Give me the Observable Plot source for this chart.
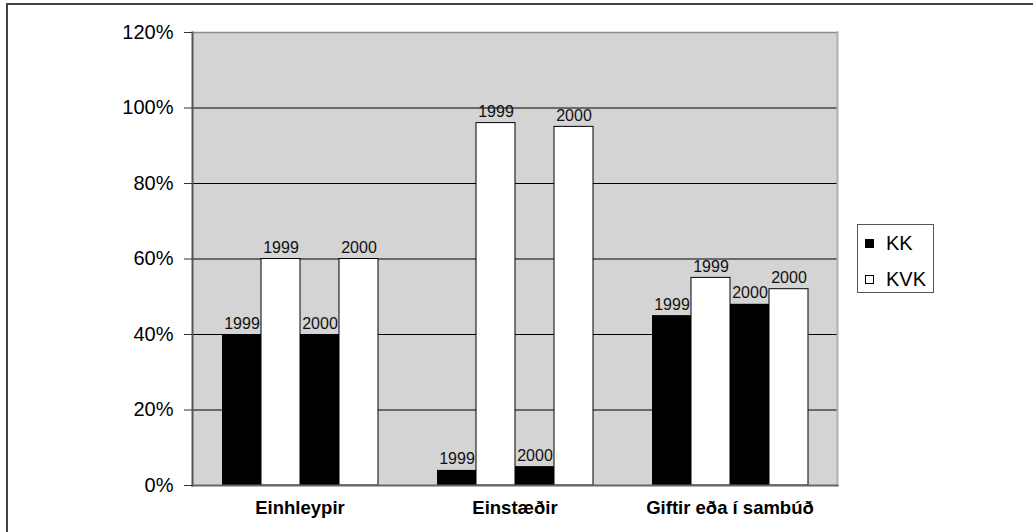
<!DOCTYPE html>
<html>
<head>
<meta charset="utf-8">
<script src="https://cdn.jsdelivr.net/npm/d3@7"></script>
<script src="https://cdn.jsdelivr.net/npm/@observablehq/plot@0.6"></script>
<style>
  html, body { margin: 0; padding: 0; background: #fff; }
  #wrap { position: relative; width: 1033px; height: 532px; overflow: hidden; font-family: "Liberation Sans", Arial, sans-serif; }
  #border { position: absolute; left: 6px; top: 3px; width: 1100px; height: 600px; border-left: 2px solid #444; border-top: 2px solid #444; pointer-events: none; }
  #legend { position: absolute; left: 857px; top: 224px; width: 77px; height: 69px; border: 1px solid #555; background: #fff; box-sizing: border-box; }
  .item { position: absolute; left: 7px; font-size: 20px; line-height: 20px; color: #000; }
  .sw { position: absolute; left: 0; width: 9px; height: 9px; box-sizing: border-box; border: 1px solid #000; }
  .lab { position: absolute; left: 21px; top: 0; white-space: nowrap; }
  svg { position: absolute; left: 0; top: 0; }
</style>
</head>
<body>
<div id="wrap">
  <div id="chart"></div>
  <div id="border"></div>
  <div id="legend"></div>
</div>
<script>
const categories = ["Einhleypir", "Einstæðir", "Giftir eða í sambúð"];
const seriesNames = ["KK", "KVK"];
const years = ["1999", "2000"];
const kk1999 = [0.40, 0.04, 0.45];
const kvk1999 = [0.60, 0.96, 0.55];
const kk2000 = [0.40, 0.05, 0.48];
const kvk2000 = [0.60, 0.95, 0.52];
const yTicks = [0, 0.2, 0.4, 0.6, 0.8, 1.0, 1.2];
const seriesColors = {KK: "#000000", KVK: "#ffffff"};

const valueTable = {
  "KK 1999": kk1999, "KVK 1999": kvk1999,
  "KK 2000": kk2000, "KVK 2000": kvk2000
};
const keys = ["KK 1999", "KVK 1999", "KK 2000", "KVK 2000"];
const rows = [];
categories.forEach((cat, i) => {
  keys.forEach(k => {
    const [s, y] = k.split(" ");
    rows.push({cat, key: k, series: s, year: y, value: valueTable[k][i]});
  });
});

const chart = Plot.plot({
  width: 1033,
  height: 532,
  marginLeft: 192,
  marginRight: 196,
  marginTop: 32,
  marginBottom: 47,
  style: {fontFamily: "'Liberation Sans', Arial, sans-serif", background: "transparent", color: "#000"},
  fx: {domain: categories, padding: 0, label: null},
  x: {domain: keys, paddingInner: 0, paddingOuter: 0.72, axis: null},
  y: {domain: [0, 1.2], label: null},
  marks: [
    Plot.frame({fill: "#d4d4d4", stroke: "none", facet: "super"}),
    Plot.gridY({ticks: [0.2, 0.4, 0.6, 0.8, 1.0], stroke: "#000", strokeOpacity: 1, strokeWidth: 1}),
    Plot.frame({anchor: "top", stroke: "#8a8a8a", strokeWidth: 1.5, facet: "super"}),
    Plot.frame({anchor: "right", stroke: "#b0b0b0", strokeWidth: 2, facet: "super"}),
    Plot.barY(rows, {
      fx: "cat", x: "key", y: "value",
      fill: d => seriesColors[d.series],
      stroke: d => d.series === "KVK" ? "#000" : "none",
      strokeWidth: 1
    }),
    Plot.text(rows, {
      fx: "cat", x: "key", y: "value", text: "year",
      lineAnchor: "bottom", dy: -6, fontSize: 16, fill: "#111"
    }),
    Plot.frame({anchor: "bottom", stroke: "#666", strokeWidth: 2, facet: "super"}),
    Plot.frame({anchor: "left", stroke: "#555", strokeWidth: 2, facet: "super"}),
    Plot.axisY({ticks: yTicks, tickFormat: d3.format(".0%"), fontSize: 20, tickSize: 8, tickPadding: 11, stroke: "#333", label: null}),
    Plot.axisFx({anchor: "bottom", tickSize: 0, tickPadding: 15, fontSize: 18.5, fontWeight: "bold", label: null})
  ]
});
document.getElementById("chart").appendChild(chart);

const legend = document.getElementById("legend");
seriesNames.forEach((s, i) => {
  const item = document.createElement("div");
  item.className = "item";
  item.style.top = (i === 0 ? 8 : 44) + "px";
  const sw = document.createElement("div");
  sw.className = "sw";
  sw.style.top = "6px";
  sw.style.background = seriesColors[s];
  const lab = document.createElement("div");
  lab.className = "lab";
  lab.textContent = s;
  item.appendChild(sw);
  item.appendChild(lab);
  legend.appendChild(item);
});
</script>
</body>
</html>
